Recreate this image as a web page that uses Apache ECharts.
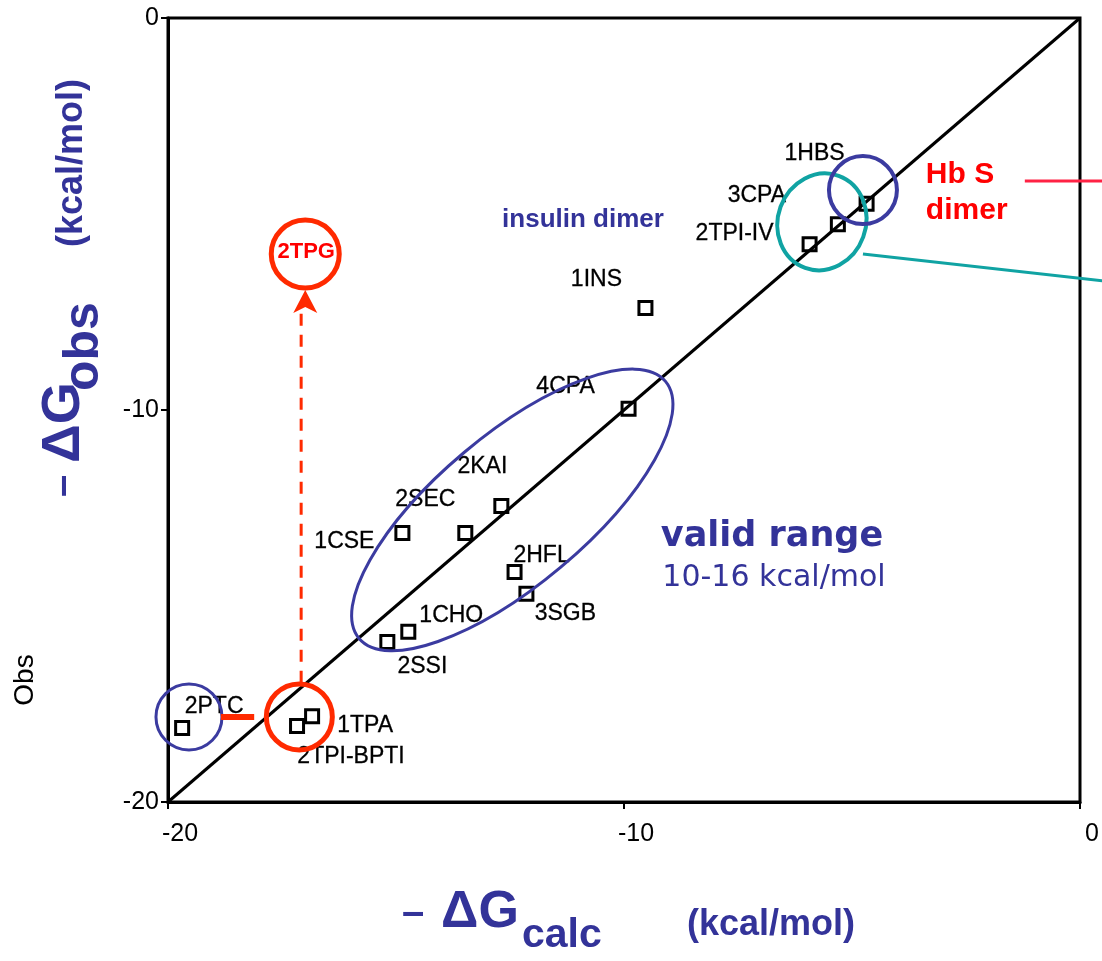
<!DOCTYPE html>
<html>
<head>
<meta charset="utf-8">
<script src="https://cdn.jsdelivr.net/npm/echarts@6/dist/echarts.min.js"></script>
<style>
  html, body { margin: 0; padding: 0; background: #fff; }
  #chart { width: 1102px; height: 961px; }
</style>
</head>
<body>
<div id="chart"></div>
<script>
// Protein complexes: calculated vs. observed binding free energy (kcal/mol)
const complexes = ['2PTC', '2TPI-BPTI', '1TPA', '2SSI', '1CHO', '1CSE', '2SEC', '2KAI',
                   '2HFL', '3SGB', '4CPA', '1INS', '2TPI-IV', '3CPA', '1HBS'];
const calcDG = [-19.69, -17.17, -16.84, -15.19, -14.73, -14.86, -13.48, -12.69,
                -12.40, -12.14, -9.90, -9.53, -5.93, -5.31, -4.68];
const obsDG  = [-18.11, -18.06, -17.81, -15.92, -15.66, -13.14, -13.14, -12.45,
                -14.13, -14.69, -9.97, -7.40, -5.77, -5.26, -4.74];

// Axis range and ticks
const axisMin = -20, axisMax = 0, axisStep = 10;

// Identity line (calc = obs)
const identityLine = [[-20, -20], [0, 0]];

// Shifted complex 2TPG (obs value after correction) and its arrow start
const tpg = { name: '2TPG', calc: -16.99, obs: -6.02 };
const tpgArrowFrom = { calc: -17.08, obs: -16.96 };

// Label placement around each marker, in pixels
const labelOffsets = {
  '1HBS': [-52, -50], '3CPA': [-81, -29], '2TPI-IV': [-75, -11], '1INS': [-49, -28],
  '4CPA': [-63, -22], '2KAI': [-19, -39], '2SEC': [-40, -33], '1CSE': [-58, 9],
  '2HFL': [27, -16], '3SGB': [39, 20], '1CHO': [43, -16], '2SSI': [35, 25],
  '2PTC': [32, -21], '1TPA': [53, 10], '2TPI-BPTI': [54, 31]
};

const FONT = '"Liberation Sans", Arial, Helvetica, sans-serif';
const BLUE = '#3b3ba0';
const TEXT_BLUE = '#333399';
const RED = '#ff2a00';
const TEAL = '#10a3a3';

const chart = echarts.init(document.getElementById('chart'), null, { renderer: 'canvas' });

const axisCommon = {
  type: 'value',
  min: axisMin, max: axisMax, interval: axisStep,
  splitLine: { show: false },
  axisLine: { show: true, onZero: false, lineStyle: { color: '#000', width: 3 } },
  axisTick: { show: true, length: 7, lineStyle: { color: '#000', width: 2 } },
  axisLabel: { show: true, showMinLabel: true, showMaxLabel: true, color: '#000',
               fontSize: 25, fontFamily: FONT }
};

chart.setOption({
  animation: false,
  backgroundColor: '#fff',
  grid: { left: 168, right: 22, top: 18, bottom: 159, show: true,
          borderColor: '#000', borderWidth: 3 },
  xAxis: Object.assign({}, axisCommon, {
    axisLabel: Object.assign({}, axisCommon.axisLabel, { margin: 20, padding: [0, 0, 0, 24] })
  }),
  yAxis: Object.assign({}, axisCommon, {
    axisLabel: Object.assign({}, axisCommon.axisLabel, { margin: 9 })
  }),
  series: [
    {
      type: 'line',
      data: identityLine,
      symbol: 'none',
      silent: true,
      lineStyle: { color: '#000', width: 3 },
      z: 2
    },
    {
      type: 'scatter',
      symbol: 'rect',
      symbolSize: 13,
      itemStyle: { color: 'rgba(0,0,0,0)', borderColor: '#000', borderWidth: 3, opacity: 1 },
      label: { show: true, position: 'inside', formatter: '{b}', color: '#000',
               fontSize: 23, fontFamily: FONT,
               textBorderColor: '#000', textBorderWidth: 0.3 },
      data: complexes.map((n, i) => ({
        name: n, value: [calcDG[i], obsDG[i]], label: { offset: labelOffsets[n] }
      })),
      z: 3
    }
  ]
});

const P = (x, y) => chart.convertToPixel({ gridIndex: 0 }, [x, y]);
const deg = d => d * Math.PI / 180;

function ring(x, y, rx, ry, rot, color, width) {
  const c = P(x, y);
  return { type: 'ellipse', x: c[0], y: c[1], rotation: deg(rot), z: 10,
           shape: { cx: 0, cy: 0, rx: rx, ry: ry },
           style: { fill: 'none', stroke: color, lineWidth: width } };
}
function seg(a, b, color, width, dash) {
  const p = P(a[0], a[1]), q = P(b[0], b[1]);
  return { type: 'line', z: 10,
           shape: { x1: p[0], y1: p[1], x2: q[0], y2: q[1] },
           style: { stroke: color, lineWidth: width, lineDash: dash || null } };
}
function label(text, x, y, font, color, align, vAlign) {
  return { type: 'text', x: x, y: y, z: 11,
           style: { text: text, font: font, fill: color,
                    align: align || 'left', verticalAlign: vAlign || 'middle' } };
}

const tip = P(tpg.calc, -6.94);
const tpgC = P(tpg.calc, tpg.obs);
const hb = P(-3.38, 0);

chart.setOption({
  graphic: [
    // valid-range ellipse along the diagonal
    ring(-12.45, -12.55, 200, 75, 40, BLUE, 3),
    // Hb S dimer group
    ring(-5.66, -5.20, 44, 49, -20, TEAL, 4),
    ring(-4.76, -4.39, 34, 34, 0, BLUE, 4),
    seg([-1.21, -4.16], [0.6, -4.16], '#ff2244', 3),
    seg([-4.76, -6.02], [0.6, -6.72], TEAL, 3),
    // 2PTC and 2TPI-BPTI / 1TPA markers
    ring(-19.54, -17.83, 33, 33, 0, BLUE, 3),
    ring(-17.12, -17.83, 33, 33, 0, RED, 5),
    seg([-18.84, -17.83], [-18.11, -17.83], RED, 6),
    // shift of 2TPG
    seg([tpgArrowFrom.calc, tpgArrowFrom.obs], [tpgArrowFrom.calc, -7.45], RED, 3, [12, 9]),
    { type: 'polygon', z: 10,
      shape: { points: [[tip[0], tip[1]], [tip[0] - 12, tip[1] + 23],
                        [tip[0], tip[1] + 17], [tip[0] + 12, tip[1] + 23]] },
      style: { fill: RED } },
    ring(tpg.calc, tpg.obs, 34, 34, 0, RED, 5),
    label(tpg.name, tpgC[0] + 1, tpgC[1] - 2, 'bold 22px ' + FONT, '#ff0000', 'center'),
    // annotations
    label('insulin dimer', 583, 220, 'bold 26px ' + FONT, TEXT_BLUE, 'center'),
    label('Hb S', hb[0], 175, 'bold 30px ' + FONT, '#ff0000'),
    label('dimer', hb[0], 211, 'bold 30px ' + FONT, '#ff0000'),
    label('valid range', 772, 537, 'bold 35px "DejaVu Sans", sans-serif', TEXT_BLUE, 'center'),
    label('10-16 kcal/mol', 774, 578, '30px "DejaVu Sans", sans-serif', TEXT_BLUE, 'center'),
    // axis titles
    label('–', 413, 914, 'bold 40px ' + FONT, TEXT_BLUE, 'center'),
    label('ΔG', 441, 913, 'bold 52px ' + FONT, TEXT_BLUE),
    label('calc', 522, 936, 'bold 41px ' + FONT, TEXT_BLUE),
    label('(kcal/mol)', 771, 925, 'bold 36px ' + FONT, TEXT_BLUE, 'center'),
    {
      type: 'group', x: 0, y: 500, rotation: Math.PI / 2, z: 11,
      children: [
        label('–', 14, 64, 'bold 40px ' + FONT, TEXT_BLUE, 'center'),
        label('ΔG', 37, 64, 'bold 54px ' + FONT, TEXT_BLUE),
        label('obs', 109, 84, 'bold 50px ' + FONT, TEXT_BLUE),
        label('(kcal/mol)', 337, 72, 'bold 36px ' + FONT, TEXT_BLUE, 'center')
      ]
    },
    {
      type: 'text', x: 25, y: 680, rotation: Math.PI / 2, z: 11,
      style: { text: 'Obs', font: '28px ' + FONT, fill: '#000',
               align: 'center', verticalAlign: 'middle' }
    }
  ]
});
</script>
</body>
</html>
